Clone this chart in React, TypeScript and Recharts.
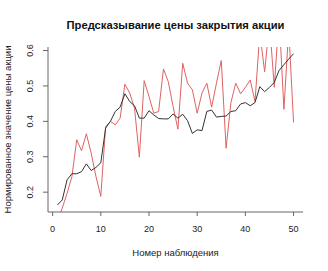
import React from "react";
import { LineChart, Line, XAxis, YAxis } from "recharts";

const observations: number[] = Array.from({ length: 50 }, (_, i) => i + 1);

const actual: number[] = [
  0.12, 0.155, 0.197, 0.244, 0.348, 0.317, 0.365, 0.31, 0.244, 0.188,
  0.385, 0.4, 0.39, 0.409, 0.505, 0.48, 0.437, 0.299, 0.515, 0.47,
  0.423, 0.428, 0.548, 0.512, 0.442, 0.378, 0.564, 0.508, 0.489, 0.423,
  0.48, 0.508, 0.44, 0.508, 0.572, 0.324, 0.453, 0.508, 0.478, 0.496,
  0.517, 0.456, 0.65, 0.54, 0.68, 0.496, 0.7, 0.434, 0.66, 0.397,
];

const predicted: number[] = [
  0.164, 0.178, 0.235, 0.252, 0.252, 0.258, 0.28, 0.261, 0.27, 0.283,
  0.381, 0.4, 0.428, 0.44, 0.478, 0.456, 0.444, 0.409, 0.409, 0.43,
  0.418, 0.408, 0.407, 0.407, 0.421, 0.409, 0.42, 0.402, 0.366, 0.376,
  0.374, 0.428, 0.432, 0.412, 0.414, 0.415, 0.428, 0.43, 0.449, 0.453,
  0.444, 0.453, 0.498, 0.484, 0.496, 0.51, 0.544, 0.56, 0.576, 0.591,
];

const xTicks: number[] = [0, 10, 20, 30, 40, 50];
const yTicks: number[] = [0.2, 0.3, 0.4, 0.5, 0.6];

const title = "Предсказывание цены закрытия акции";
const xTitle = "Номер наблюдения";
const yTitle = "Нормированное значение цены акции";

const data = observations.map((n, i) => ({
  n,
  actual: actual[i],
  predicted: predicted[i],
}));

const FONT = "'Liberation Sans', Arial, sans-serif";
const AXIS = "#666";

const XTick = (props: any) => {
  const { x, y, payload } = props;
  return (
    <text x={x} y={y + 14} textAnchor="middle" fontSize={9} fill="#222" fontFamily={FONT}>
      {payload.value}
    </text>
  );
};

const YTick = (props: any) => {
  const { x, y, payload } = props;
  const bx = x - 8;
  return (
    <text
      x={bx}
      y={y}
      textAnchor="middle"
      fontSize={9}
      fill="#222"
      fontFamily={FONT}
      transform={`rotate(-90, ${bx}, ${y})`}
    >
      {Number(payload.value).toFixed(1)}
    </text>
  );
};

export default function App() {
  return (
    <div style={{ position: "absolute", left: 0, top: 0, width: 328, height: 271, background: "#fff" }}>
      <LineChart
        width={328}
        height={271}
        data={data}
        margin={{ top: 47, right: 25, bottom: 0, left: 0 }}
      >
        <XAxis
          dataKey="n"
          type="number"
          domain={[-0.96, 51.96]}
          ticks={xTicks}
          height={59}
          tickSize={4}
          tick={<XTick />}
          stroke={AXIS}
          allowDataOverflow
        />
        <XAxis
          xAxisId="top"
          orientation="top"
          dataKey="n"
          type="number"
          domain={[-0.96, 51.96]}
          height={0}
          tick={false}
          tickLine={false}
          stroke={AXIS}
        />
        <YAxis
          type="number"
          domain={[0.144, 0.61]}
          ticks={yTicks}
          width={48}
          tickSize={5}
          tick={<YTick />}
          stroke={AXIS}
          allowDataOverflow
        />
        <YAxis
          yAxisId="right"
          orientation="right"
          type="number"
          domain={[0.144, 0.61]}
          width={0}
          tick={false}
          tickLine={false}
          stroke={AXIS}
        />
        <Line
          type="linear"
          dataKey="actual"
          stroke="#e06262"
          strokeWidth={1}
          dot={false}
          isAnimationActive={false}
        />
        <Line
          type="linear"
          dataKey="predicted"
          stroke="#333"
          strokeWidth={1}
          dot={false}
          isAnimationActive={false}
        />
      </LineChart>
      <svg
        width={328}
        height={271}
        style={{ position: "absolute", left: 0, top: 0, pointerEvents: "none" }}
      >
        <text x={175.5} y={28.5} textAnchor="middle" fontSize={11.2} fontWeight="bold" fill="#111" fontFamily={FONT}>
          {title}
        </text>
        <text x={175.5} y={256} textAnchor="middle" fontSize={9.5} fill="#222" fontFamily={FONT}>
          {xTitle}
        </text>
        <text
          x={10.5}
          y={129.5}
          textAnchor="middle"
          fontSize={9.5}
          fill="#222"
          fontFamily={FONT}
          transform="rotate(-90, 10.5, 129.5)"
        >
          {yTitle}
        </text>
      </svg>
    </div>
  );
}
